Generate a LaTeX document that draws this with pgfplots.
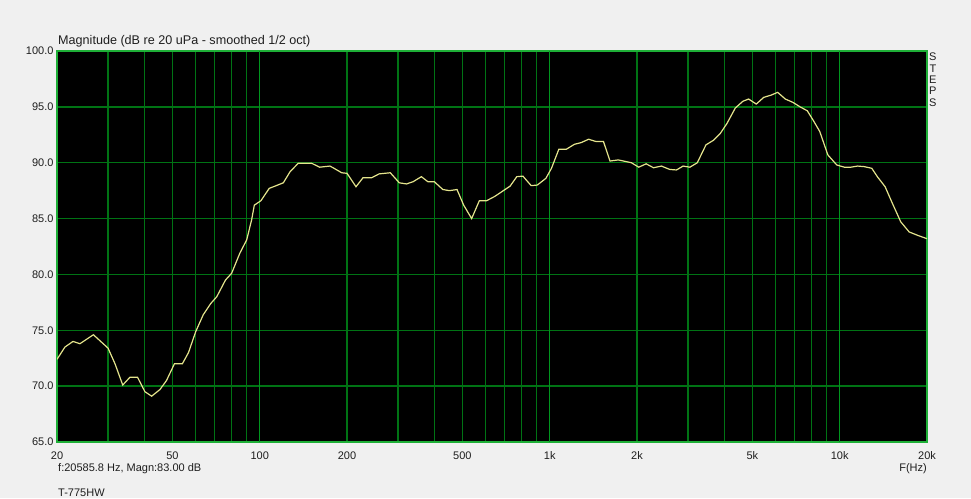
\documentclass[border=0pt]{standalone}
\usepackage{fontspec}
\setmainfont{Liberation Sans}
\usepackage{pgfplots}
\pgfplotsset{compat=1.18}

\definecolor{bg}{HTML}{F0F0F0}
\definecolor{gridg}{RGB}{0,115,20}
\definecolor{gridb}{RGB}{0,150,30}
\definecolor{frameg}{RGB}{30,175,55}
\definecolor{curve}{RGB}{228,228,140}
\definecolor{txt}{RGB}{30,30,30}

% smoothed 1/2 oct magnitude
\pgfplotstableread{
f      db
20     72.4
21.3   73.5
22.7   74.0
24.0   73.8
26.7   74.6
30     73.4
31.7   72.0
33.7   70.1
35.7   70.8
37.9   70.8
40.2   69.5
42.4   69.1
45.3   69.7
47.7   70.5
50.8   72.0
54.1   72.0
56.8   73.0
60.2   74.9
63.9   76.4
67.8   77.4
71.1   78.0
76.2   79.5
80.0   80.1
85.4   81.9
90.2   83.1
93.8   84.9
95.8   86.2
101    86.6
107.8  87.7
120.6  88.2
127.3  89.2
135.8  89.95
151    89.95
161    89.6
174.6  89.7
179    89.55
191.8  89.1
200    89.05
214.8  87.85
227    88.65
243    88.65
258    89.0
282    89.1
303    88.2
321    88.1
338    88.3
361    88.75
380    88.3
400    88.3
428    87.6
451    87.5
479    87.6
505    86.2
538    85.0
572    86.6
606    86.6
648    87.0
692    87.5
730    87.9
770    88.75
808    88.8
863    87.95
906    88.0
970    88.6
1014   89.5
1075   91.2
1140   91.2
1217   91.65
1283   91.8
1362   92.1
1443   91.9
1532   91.9
1614   90.15
1724   90.25
1912   90.0
2028   89.6
2150   89.9
2280   89.55
2428   89.7
2592   89.4
2735   89.35
2884   89.7
3044   89.6
3228   90.0
3458   91.6
3666   92.0
3870   92.6
4082   93.5
4366   94.9
4636   95.5
4850   95.7
5156   95.25
5470   95.85
5800   96.05
6110   96.3
6492   95.7
6898   95.4
7300   95.0
7730   94.65
8100   93.8
8532   92.8
9100   90.7
9766   89.8
10372  89.6
10930  89.6
11520  89.7
12140  89.65
12900  89.5
13480  88.75
14340  87.85
15200  86.35
16240  84.7
17360  83.8
18560  83.5
20000  83.2
}\magtable

\begin{document}
\begin{tikzpicture}[x=1pt,y=1pt,font=\fontsize{11}{13}\selectfont,color=txt]
\fill[bg] (0,0) rectangle (971,498);
\begin{axis}[
    at={(57pt,56pt)}, anchor=south west,
    scale only axis, width=870pt, height=391pt,
    xmode=log,
    xmin=20, xmax=20000,
    ymin=65, ymax=100,
    major tick length=0pt,
    minor tick length=0pt,
    minor xtick={},
    minor ytick={},
    axis background/.style={fill=black},
    axis line style={draw=frameg, line width=1.3pt},
    /pgf/number format/assume math mode=true,
    xtick={20,30,40,50,60,70,80,90,200,300,400,500,600,700,800,900,
           2000,3000,4000,5000,6000,7000,8000,9000,20000},
    xticklabels={20,{},{},50,{},{},{},{},200,{},{},500,{},{},{},{},
                 2k,{},{},5k,{},{},{},{},20k},
    extra x ticks={100,1000,10000},
    extra x tick labels={100,1k,10k},
    extra x tick style={grid=major,
        major grid style={color=gridb, line width=1.3pt}},
    xticklabel style={yshift=-6pt, text=txt},
    ytick={65,70,...,100},
    yticklabel={\pgfmathprintnumber[fixed,fixed zerofill,precision=1]{\tick}},
    yticklabel style={text=txt},
    grid=major,
    major grid style={color=gridg, line width=1.3pt},
]
\addplot[curve, line width=1.2pt, mark=none] table[x=f, y=db] {\magtable};
\end{axis}

\node[anchor=base west, inner sep=0, font=\fontsize{12.6}{14}\selectfont] at (58,453) {Magnitude (dB re 20 uPa - smoothed 1/2 oct)};
\node[anchor=base west, inner sep=0] at (58,27) {f:20585.8 Hz, Magn:83.00 dB};
\node[anchor=base east, inner sep=0] at (927,27) {F(Hz)};
\node[anchor=base west, inner sep=0] at (58,2) {T-775HW};
\node[anchor=north west, inner sep=0, align=center,
      font=\fontsize{11}{11.3}\selectfont] at (929,445) {S\\T\\E\\P\\S};
\end{tikzpicture}
\end{document}
